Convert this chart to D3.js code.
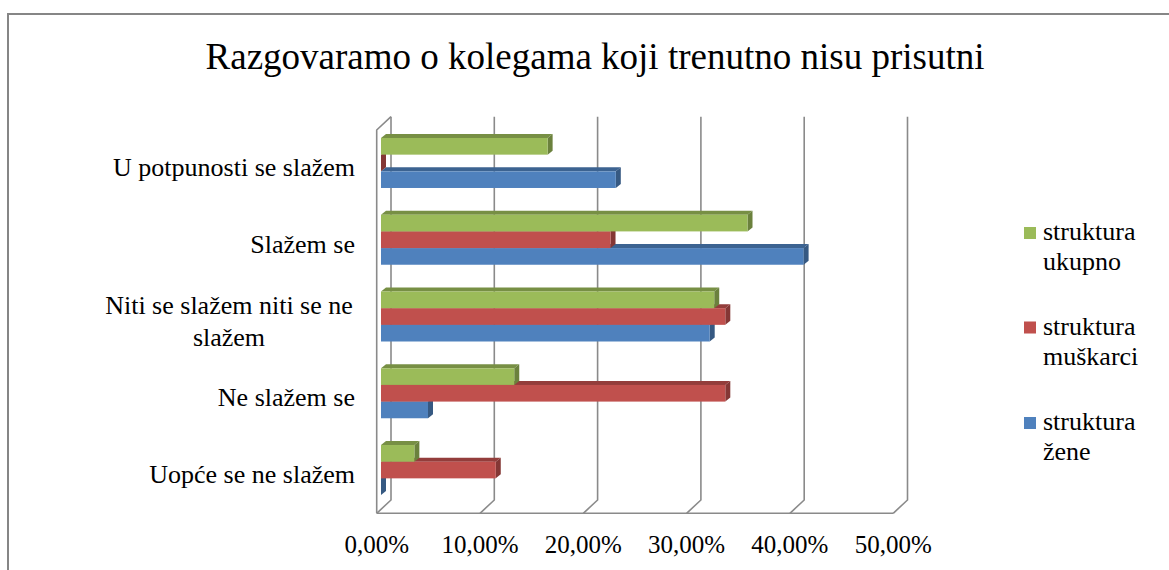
<!DOCTYPE html>
<html><head><meta charset="utf-8">
<script src="https://cdn.jsdelivr.net/npm/d3@7"></script>
</head><body style="margin:0">
<svg id="c" width="1169" height="570" style="display:block"></svg>
<script>
const categories = ["U potpunosti se slažem", "Slažem se", "Niti se slažem niti se ne slažem", "Ne slažem se", "Uopće se ne slažem"];
const categoryLines = [["U potpunosti se slažem"], ["Slažem se"], ["Niti se slažem niti se ne", "slažem"], ["Ne slažem se"], ["Uopće se ne slažem"]];
const seriesNames = ["struktura ukupno", "struktura muškarci", "struktura žene"];
const legendLines = [["struktura", "ukupno"], ["struktura", "muškarci"], ["struktura", "žene"]];
const ukupno = [16.13, 35.48, 32.26, 12.90, 3.23];
const muskarci = [0.00, 22.22, 33.33, 33.33, 11.11];
const zene = [22.73, 40.91, 31.82, 4.55, 0.00];
const tickValues = [0, 10, 20, 30, 40, 50];
const tickLabels = ["0,00%", "10,00%", "20,00%", "30,00%", "40,00%", "50,00%"];
const colors = ["#9BBB59", "#C0504D", "#4F81BD"];
const seriesValues = [ukupno, muskarci, zene];

const svg = d3.select("#c");
const FONT = "Tinos, Liberation Serif, Times New Roman, Times";

svg.append("rect").attr("x", 8).attr("y", 14).attr("width", 1200).attr("height", 600)
  .attr("fill", "none").attr("stroke", "#868686").attr("stroke-width", 2);

const W = 516.5;
const xBack = d3.scaleLinear().domain([0, 50]).range([391, 391 + W]);
const xFront = d3.scaleLinear().domain([0, 50]).range([376.7, 376.7 + W]);
const xBar = d3.scaleLinear().domain([0, 50]).range([381, 381 + W]);
const yCat = d3.scaleBand().domain(categories).range([124.6, 508.4]).padding(0);
const ySer = d3.scaleBand().domain(seriesNames).range([-25, 25]).padding(0);

const wallTop = 116.7, wallBottom = 500, dy = 13.3;
const grid = svg.append("g").attr("stroke", "#8a8a8a").attr("stroke-width", 1.6).attr("fill", "none");
tickValues.forEach(v => {
  grid.append("path").attr("d", `M${xBack(v)},${wallTop}L${xBack(v)},${wallBottom}L${xFront(v)},${wallBottom + dy}`);
});
grid.append("path").attr("d", `M${xFront(0)},${wallBottom + dy}L${xFront(50)},${wallBottom + dy}`);
grid.append("path").attr("d", `M${xFront(0)},${wallBottom + dy}L${xFront(0)},${wallTop + dy}L${xBack(0)},${wallTop}`);

const bdx = 5, bdy = 4;
const bars = svg.append("g");
categories.forEach((cat, ci) => {
  const cy = yCat(cat) + yCat.bandwidth() / 2;
  for (let si = seriesNames.length - 1; si >= 0; si--) {
    const v = seriesValues[si][ci];
    const y0 = cy + ySer(seriesNames[si]);
    const y1 = y0 + ySer.bandwidth();
    const x0 = xBar(0), x1 = xBar(v);
    const base = d3.color(colors[si]);
    const top = base.darker(0.75).formatHex();
    const side = base.darker(1.05).formatHex();
    const g = bars.append("g");
    g.append("path").attr("fill", top)
      .attr("d", `M${x0},${y0}L${x0 + bdx},${y0 - bdy}L${x1 + bdx},${y0 - bdy}L${x1},${y0}Z`);
    g.append("path").attr("fill", side)
      .attr("d", `M${x1},${y0}L${x1 + bdx},${y0 - bdy}L${x1 + bdx},${y1 - bdy}L${x1},${y1}Z`);
    if (v > 0) {
      g.append("rect").attr("x", x0).attr("y", y0).attr("width", x1 - x0).attr("height", y1 - y0)
        .attr("fill", colors[si]);
    }
  }
});

const txt = svg.append("g").attr("font-family", FONT).attr("fill", "#000");

txt.append("text").attr("x", 595).attr("y", 69).attr("text-anchor", "middle")
  .attr("font-size", 37)
  .text("Razgovaramo o kolegama koji trenutno nisu prisutni");

categories.forEach((cat, ci) => {
  const cy = yCat(cat) + yCat.bandwidth() / 2;
  const lines = categoryLines[ci];
  const lh = 32;
  lines.forEach((ln, li) => {
    const y = cy + 13 + (li - (lines.length - 1) / 2) * lh;
    const multi = lines.length > 1;
    txt.append("text").attr("x", multi ? 229 : 355).attr("y", y)
      .attr("text-anchor", multi ? "middle" : "end")
      .attr("font-size", 26).text(ln);
  });
});

tickValues.forEach((v, i) => {
  txt.append("text").attr("x", xFront(v)).attr("y", 553).attr("text-anchor", "middle")
    .attr("font-size", 25).text(tickLabels[i]);
});

const legY = [240, 334.5, 430];
seriesNames.forEach((s, i) => {
  svg.append("rect").attr("x", 1024).attr("y", legY[i] - 13).attr("width", 12).attr("height", 12).attr("fill", colors[i]);
  legendLines[i].forEach((ln, li) => {
    txt.append("text").attr("x", 1043).attr("y", legY[i] + li * 30)
      .attr("font-size", 26).text(ln);
  });
});
</script>
</body></html>
